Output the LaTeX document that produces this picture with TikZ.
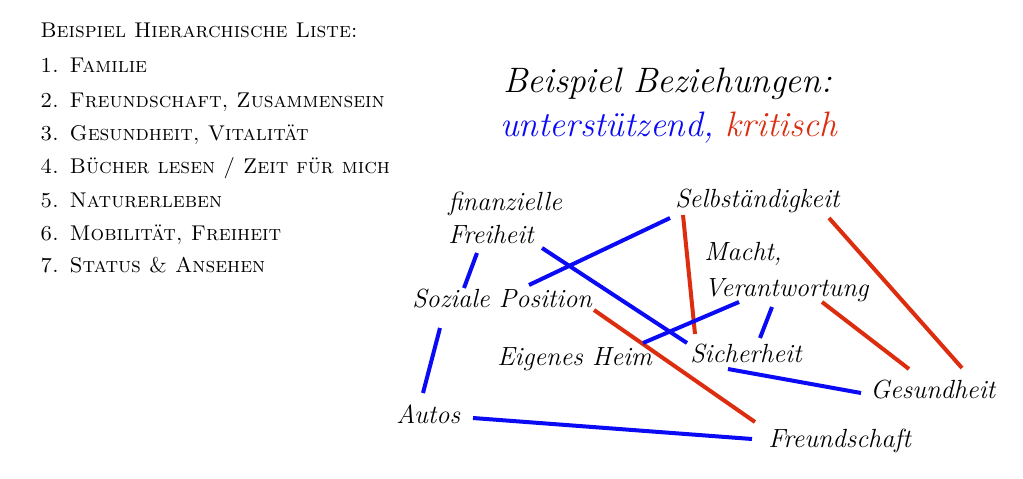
\documentclass[tikz,border=0pt]{standalone}
\usepackage{fontspec}
\definecolor{posblue}{RGB}{10,10,245}
\definecolor{negred}{RGB}{220,45,15}
\tikzset{
  lbl/.style={anchor=base west, inner sep=0pt, font=\fontsize{19.7}{24}\selectfont\itshape},
  ttl/.style={anchor=base west, inner sep=0pt, font=\fontsize{26.5}{30}\selectfont\itshape},
  lst/.style={anchor=base west, inner sep=0pt, font=\fontsize{16}{19}\selectfont\scshape},
  posline/.style={draw=posblue, line width=3pt},
  negline/.style={draw=negred, line width=3pt}
}
\begin{document}
\begin{tikzpicture}[x=0.75pt, y=-0.75pt]
\useasboundingbox[fill=white] (0,0) rectangle (1023,478);
% list
\node[lst] (l0) at (40,38) {Beispiel Hierarchische Liste:};
\node[lst] (l1) at (40,73) {1. Familie};
\node[lst] (l2) at (40,107) {2. Freundschaft, Zusammensein};
\node[lst] (l3) at (40,140) {3. Gesundheit, Vitalität};
\node[lst] (l4) at (40,173) {4. Bücher lesen / Zeit für mich};
\node[lst] (l5) at (40,207) {5. Naturerleben};
\node[lst] (l6) at (40,240) {6. Mobilität, Freiheit};
\node[lst] (l7) at (40,272) {7. Status \& Ansehen};
% title
\node[ttl] (t1) at (503,92) {Beispiel Beziehungen:};
\node[ttl] (t2) at (500,136) {\textcolor{posblue}{unterstützend,} \textcolor{negred}{kritisch}};
% labels
\node[lbl] (fin) at (448,210) {finanzielle};
\node[lbl] (frei) at (448,243) {Freiheit};
\node[lbl] (soz) at (412,307) {Soziale Position};
\node[lbl] (selb) at (675,207) {Selbständigkeit};
\node[lbl] (macht) at (704,260) {Macht,};
\node[lbl] (ver) at (704,296) {Verantwortung};
\node[lbl] (eig) at (497,365) {Eigenes Heim};
\node[lbl] (sich) at (690,362) {Sicherheit};
\node[lbl] (ges) at (870,398) {Gesundheit};
\node[lbl] (autos) at (396,423) {Autos};
\node[lbl] (freund) at (768,447) {Freundschaft};
% connectors
\draw[posline] ([shift={(29,10)}]frei.base west) -- ([shift={(52,-19)}]soz.base west);
\draw[posline] ([shift={(-5,11)}]selb.base west) -- ([shift={(117,-22)}]soz.base west);
\draw[posline] ([shift={(94,5)}]frei.base west) -- ([shift={(-3,-19)}]sich.base west);
\draw[negline] ([shift={(182,3)}]soz.base west) -- ([shift={(-13,-25)}]freund.base west);
\draw[negline] ([shift={(8,8)}]selb.base west) -- ([shift={(5,-28)}]sich.base west);
\draw[negline] ([shift={(154,11)}]selb.base west) -- ([shift={(92,-30)}]ges.base west);
\draw[posline] ([shift={(35,6)}]ver.base west) -- ([shift={(146,-22)}]eig.base west);
\draw[posline] ([shift={(68,11)}]ver.base west) -- ([shift={(70,-24)}]sich.base west);
\draw[negline] ([shift={(118,6)}]ver.base west) -- ([shift={(39,-29)}]ges.base west);
\draw[posline] ([shift={(38,7)}]sich.base west) -- ([shift={(-9,-5)}]ges.base west);
\draw[posline] ([shift={(77,-5)}]autos.base west) -- ([shift={(-16,-8)}]freund.base west);
\draw[posline] ([shift={(28,21)}]soz.base west) -- ([shift={(27,-30)}]autos.base west);
\end{tikzpicture}
\end{document}
